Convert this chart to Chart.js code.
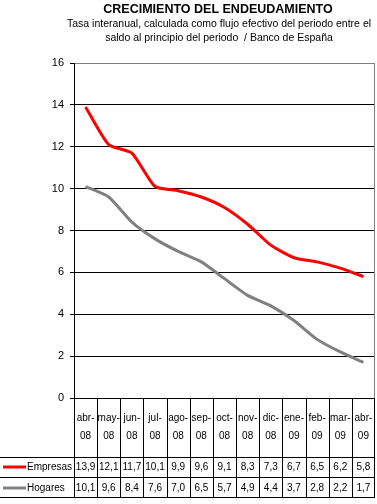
<!DOCTYPE html>
<html>
<head>
<meta charset="utf-8">
<script src="https://cdn.jsdelivr.net/npm/chart.js@4.4.1/dist/chart.umd.min.js"></script>
<style>
    html, body { margin: 0; padding: 0; background: #fff; }
    #wrap { width: 377px; height: 504px; }
</style>
</head>
<body>
<div id="wrap"><canvas id="debtChart" width="377" height="504"></canvas></div>
<script>
"use strict";

var months = ['abr-08', 'may-08', 'jun-08', 'jul-08', 'ago-08', 'sep-08', 'oct-08',
    'nov-08', 'dic-08', 'ene-09', 'feb-09', 'mar-09', 'abr-09'];
var empresas = [13.9, 12.1, 11.7, 10.1, 9.9, 9.6, 9.1, 8.3, 7.3, 6.7, 6.5, 6.2, 5.8];
var hogares = [10.1, 9.6, 8.4, 7.6, 7.0, 6.5, 5.7, 4.9, 4.4, 3.7, 2.8, 2.2, 1.7];
var yTicks = [0, 2, 4, 6, 8, 10, 12, 14, 16];

var titleText = 'CRECIMIENTO DEL ENDEUDAMIENTO';
var subtitleLines = ['Tasa interanual, calculada como flujo efectivo del periodo entre el',
    'saldo al principio del periodo  / Banco de España'];

var FONT = '"Liberation Sans", Arial, sans-serif';

function fmt(v) {
    return v.toFixed(1).replace('.', ',');
}

/*
 * Titles, right border and the data table under the plot
 */
var tablePlugin = {
    id: 'dataTable',
    afterDraw: function (chart) {
        var ctx = chart.ctx;
        var area = chart.chartArea;
        var xs = chart.scales.x;
        var colW = (area.right - area.left) / months.length;
        var rowTop = 457, rowMid = 477, rowBot = 497;
        var series = [
            { name: 'Empresas', data: empresas, color: '#ff0000', y: 467 },
            { name: 'Hogares', data: hogares, color: '#808080', y: 488 }
        ];
        var i, x;

        ctx.save();

        // titles
        ctx.fillStyle = '#000';
        ctx.textAlign = 'center';
        ctx.textBaseline = 'middle';
        ctx.font = 'bold 12.5px ' + FONT;
        ctx.fillText(titleText, 218, 10);
        ctx.font = '10.5px ' + FONT;
        ctx.fillText(subtitleLines[0], 219, 24);
        ctx.fillText(subtitleLines[1], 219, 38);

        // plot border right in gray
        ctx.strokeStyle = '#808080';
        ctx.lineWidth = 1;
        ctx.beginPath();
        ctx.moveTo(Math.round(area.right) - 0.5, Math.round(area.top) + 0.5);
        ctx.lineTo(Math.round(area.right) - 0.5, Math.round(area.bottom));
        ctx.stroke();

        // table grid
        ctx.strokeStyle = '#000';
        ctx.beginPath();
        for (i = 0; i <= months.length; i++) {
            x = Math.round(area.left + i * colW) + 0.5;
            if (i === months.length) x -= 1;
            ctx.moveTo(x, area.bottom);
            ctx.lineTo(x, rowBot + 0.5);
        }
        [rowTop, rowMid, rowBot].forEach(function (y) {
            ctx.moveTo(0, y + 0.5);
            ctx.lineTo(area.right, y + 0.5);
        });
        ctx.stroke();

        // category labels, wrapped at the dash
        ctx.font = '10px ' + FONT;
        ctx.fillStyle = '#000';
        ctx.textAlign = 'center';
        months.forEach(function (m, idx) {
            var cx = xs.getPixelForValue(idx);
            var parts = m.split('-');
            ctx.fillText(parts[0] + '-', cx, 418);
            ctx.fillText(parts[1], cx, 436);
        });

        // series rows
        series.forEach(function (s) {
            ctx.strokeStyle = s.color;
            ctx.lineWidth = 3;
            ctx.beginPath();
            ctx.moveTo(3, s.y);
            ctx.lineTo(26, s.y);
            ctx.stroke();
            ctx.fillStyle = '#000';
            ctx.textAlign = 'left';
            ctx.fillText(s.name, 27, s.y);
            ctx.textAlign = 'center';
            s.data.forEach(function (v, idx) {
                ctx.fillText(fmt(v), xs.getPixelForValue(idx), s.y);
            });
        });

        ctx.restore();
    }
};

var config = {
    type: 'line',
    data: {
        labels: months,
        datasets: [{
            label: 'Empresas',
            data: empresas,
            borderColor: '#ff0000',
            borderWidth: 3,
            pointRadius: 0,
            tension: 0.2,
            fill: false
        }, {
            label: 'Hogares',
            data: hogares,
            borderColor: '#808080',
            borderWidth: 3,
            pointRadius: 0,
            tension: 0.2,
            fill: false
        }]
    },
    options: {
        responsive: false,
        animation: false,
        devicePixelRatio: 1,
        layout: { padding: { left: 0, top: 63, right: 2, bottom: 0 } },
        plugins: {
            legend: { display: false },
            title: { display: false },
            tooltip: { enabled: false }
        },
        scales: {
            x: {
                offset: true,
                grid: { display: false },
                border: { display: false },
                ticks: { display: false },
                afterFit: function (s) { s.height = 504 - 398; }
            },
            y: {
                min: 0,
                max: 16,
                afterBuildTicks: function (s) {
                    s.ticks = yTicks.map(function (v) { return { value: v }; });
                },
                ticks: {
                    color: '#000',
                    padding: 6,
                    font: { family: FONT, size: 11 }
                },
                grid: {
                    color: function (c) { return c.tick && c.tick.value === 16 ? '#808080' : '#000'; },
                    tickColor: '#000',
                    tickLength: 4,
                    lineWidth: 1
                },
                border: { color: '#000', width: 1 },
                afterFit: function (s) { s.width = 74; }
            }
        }
    },
    plugins: [tablePlugin]
};

var debtChart = new Chart(document.getElementById('debtChart'), config);
</script>
</body>
</html>
